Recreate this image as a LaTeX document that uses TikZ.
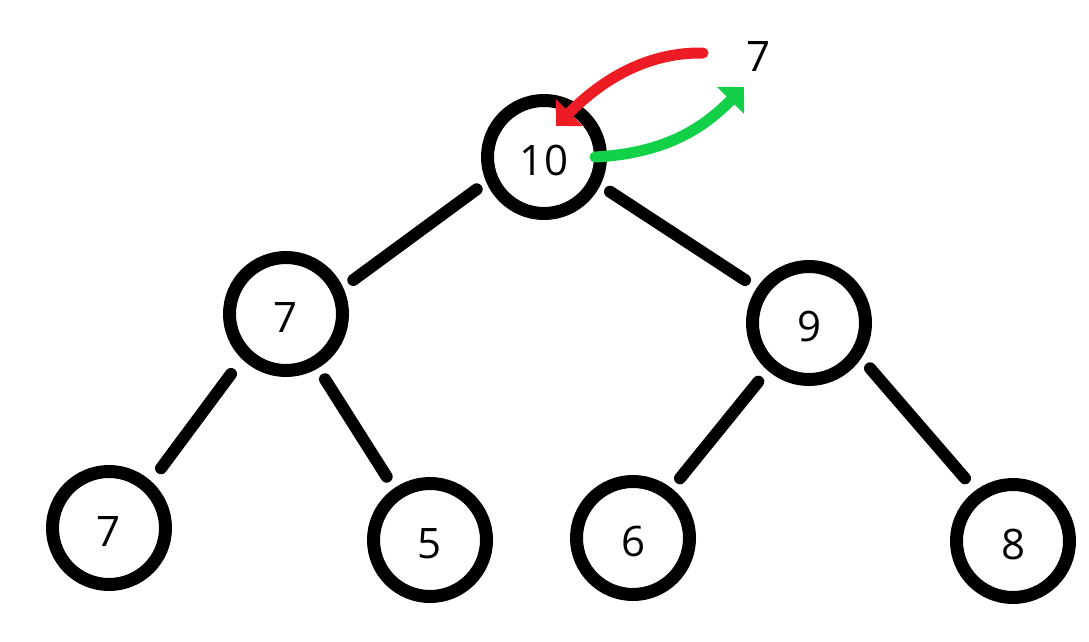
\documentclass[tikz,border=0pt]{standalone}
\usepackage{fontspec}
\setmainfont{Open Sans}
\usetikzlibrary{arrows.meta}
\definecolor{arrred}{RGB}{237,28,36}
\definecolor{arrgreen}{RGB}{18,208,72}
\begin{document}
\begin{tikzpicture}[x=1pt,y=-1pt,
  heapnode/.style={circle,draw,line width=13pt,minimum size=113pt,inner sep=0pt,
    font=\fontsize{42}{50}\selectfont,text height=37pt,text depth=0pt},
  numlabel/.style={inner sep=0pt,font=\fontsize{42}{50}\selectfont},
  edgeline/.style={line width=12pt,line cap=round},
  swaparrow/.style={line width=11pt,line cap=round,-{Triangle[length=19pt,width=37pt]}}]
\useasboundingbox (0,0) rectangle (1089,642);
\node[heapnode] (n10) at (544,157) {10};
\node[heapnode] (n7) at (286,314) {7};
\node[heapnode] (n9) at (809,323) {9};
\node[heapnode] (n7b) at (109,528) {7};
\node[heapnode] (n5) at (430,540) {5};
\node[heapnode] (n6) at (633,538) {6};
\node[heapnode] (n8) at (1013,541) {8};
\node[numlabel] (lbl) at (758,57) {7};
% tree edges
\draw[edgeline] ([shift={(-67.3,32.3)}]n10.center) -- ([shift={(67.3,-34)}]n7.center);
\draw[edgeline] ([shift={(66,34.7)}]n10.center) -- ([shift={(-64,-43)}]n9.center);
\draw[edgeline] ([shift={(-55,60)}]n7.center) -- ([shift={(52,-59.7)}]n7b.center);
\draw[edgeline] ([shift={(39,65.3)}]n7.center) -- ([shift={(-43.3,-63.3)}]n5.center);
\draw[edgeline] ([shift={(-50.7,58.7)}]n9.center) -- ([shift={(47,-59.7)}]n6.center);
\draw[edgeline] ([shift={(61,45.3)}]n9.center) -- ([shift={(-48,-62.7)}]n8.center);
% swap arrows
\draw[swaparrow,arrred] ([shift={(-55,-4)}]lbl.center) .. controls (640,52) and (595,87) .. ([shift={(12,-31)}]n10.center);
\draw[swaparrow,arrgreen] ([shift={(51,0)}]n10.center) .. controls (672,153) and (708,123) .. ([shift={(-14,30)}]lbl.center);
\end{tikzpicture}
\end{document}
